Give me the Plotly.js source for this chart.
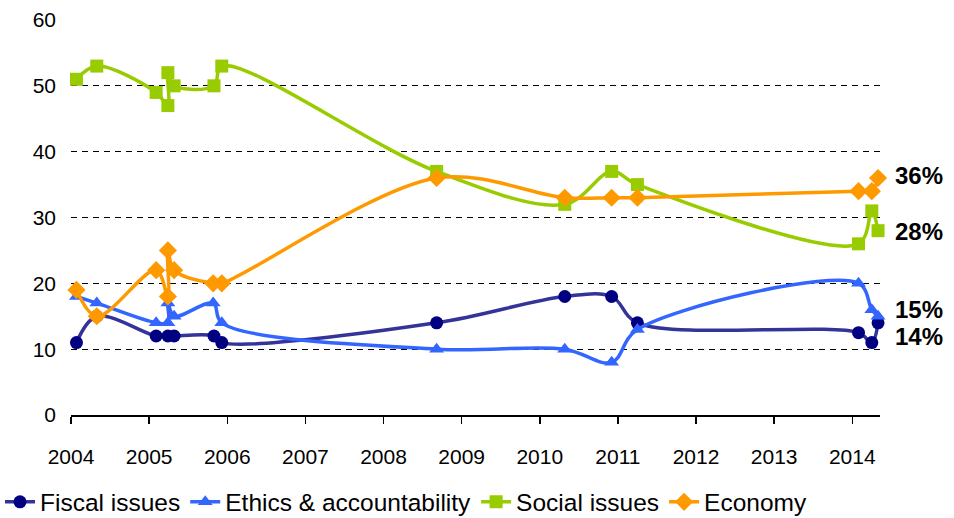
<!DOCTYPE html>
<html>
<head>
<meta charset="utf-8">
<script src="https://cdn.plot.ly/plotly-3.0.1.min.js"></script>
<style>
  html, body { margin: 0; padding: 0; background: #fff; }
  #chart { width: 954px; height: 518px; }
</style>
</head>
<body>
<div id="chart"></div>
<script>
// ---- data ----
const seriesNames = ["Fiscal issues", "Ethics & accountability", "Social issues", "Economy"];

const fiscalDates  = [2004.07, 2004.33, 2005.09, 2005.24, 2005.32, 2005.83, 2005.93, 2008.68, 2010.32, 2010.92, 2011.25, 2014.08, 2014.25, 2014.33];
const fiscalValues = [11, 15, 12, 12, 12, 12, 11, 14, 18, 18, 14, 12.5, 11, 14];

const ethicsDates  = [2004.07, 2004.33, 2005.09, 2005.24, 2005.24, 2005.32, 2005.82, 2005.93, 2008.68, 2010.32, 2010.92, 2011.25, 2014.08, 2014.25, 2014.33];
const ethicsValues = [18, 17, 14, 14, 17, 15, 17, 14, 10, 10, 8, 13, 20, 16, 15];

const socialDates  = [2004.07, 2004.33, 2005.09, 2005.24, 2005.24, 2005.32, 2005.83, 2005.93, 2008.68, 2010.32, 2010.92, 2011.25, 2014.08, 2014.25, 2014.33];
const socialValues = [51, 53, 49, 47, 52, 50, 50, 53, 37, 32, 37, 35, 26, 31, 28];

const economyDates  = [2004.07, 2004.33, 2005.09, 2005.24, 2005.24, 2005.32, 2005.82, 2005.93, 2008.68, 2010.32, 2010.92, 2011.25, 2014.08, 2014.25, 2014.33];
const economyValues = [19, 15, 22, 18, 25, 22, 20, 20, 36, 33, 33, 33, 34, 34, 36];

const yearTicks = [2004, 2005, 2006, 2007, 2008, 2009, 2010, 2011, 2012, 2013, 2014];
const endLabels = ["14%", "15%", "28%", "36%"];

// ---- styles ----
const FONT = "Liberation Sans, Arial, sans-serif";

function mk(name, x, y, lineColor, markerColor, symbol, size) {
  return {
    type: "scatter", mode: "lines+markers", name: name, x: x, y: y,
    cliponaxis: false,
    line: { color: lineColor, width: 3.5, shape: "spline", smoothing: 1 },
    marker: { color: markerColor, symbol: symbol, size: size, line: { width: 0 } }
  };
}

const traces = [
  mk(seriesNames[0], fiscalDates, fiscalValues, "#333399", "#000080", "circle", 13),
  mk(seriesNames[1], ethicsDates, ethicsValues, "#3366FF", "#3366FF", "triangle-up", 13),
  mk(seriesNames[2], socialDates, socialValues, "#99CC00", "#99CC00", "square", 13),
  mk(seriesNames[3], economyDates, economyValues, "#FF9900", "#FF9900", "diamond", 14)
];

const lastVals = [fiscalValues, ethicsValues, socialValues, economyValues].map(a => a[a.length - 1]);
const labelShift = [-14, 7, -1, 3];

const annotations = endLabels.map((t, i) => ({
  xref: "paper", x: 1, xanchor: "left", xshift: 14,
  yref: "y", y: lastVals[i], yanchor: "middle", yshift: labelShift[i],
  text: "<b>" + t + "</b>", showarrow: false, borderpad: 0,
  font: { family: FONT, size: 24, color: "#000" }
}));

const layout = {
  width: 954, height: 518,
  margin: { l: 71, r: 74, t: 20, b: 103 },
  paper_bgcolor: "#fff", plot_bgcolor: "#fff",
  font: { family: FONT, color: "#000" },
  showlegend: true,
  legend: {
    orientation: "h", xref: "container", yref: "container",
    x: 0.0, y: 0.031, xanchor: "left", yanchor: "middle",
    font: { family: FONT, size: 24.5, color: "#000" },
    itemwidth: 30, tracegroupgap: 0
  },
  xaxis: {
    range: [2004, 2014.355], tickmode: "array", tickvals: yearTicks,
    ticktext: yearTicks.map(String),
    showline: true, linecolor: "#000", linewidth: 1.5,
    ticks: "outside", ticklen: 7, tickwidth: 1.5, tickcolor: "#000",
    showgrid: false, zeroline: false,
    tickfont: { family: FONT, size: 21, color: "#000" },
    ticklabelstandoff: 15
  },
  yaxis: {
    range: [0, 60], dtick: 10, tick0: 0,
    showline: false, ticks: "", zeroline: false,
    showgrid: true, gridcolor: "#000", gridwidth: 1, griddash: "6px,5px",
    tickfont: { family: FONT, size: 21, color: "#000" },
    ticklabelstandoff: 14
  },
  annotations: annotations
};

Plotly.newPlot("chart", traces, layout, { displayModeBar: false, staticPlot: true });
</script>
</body>
</html>
